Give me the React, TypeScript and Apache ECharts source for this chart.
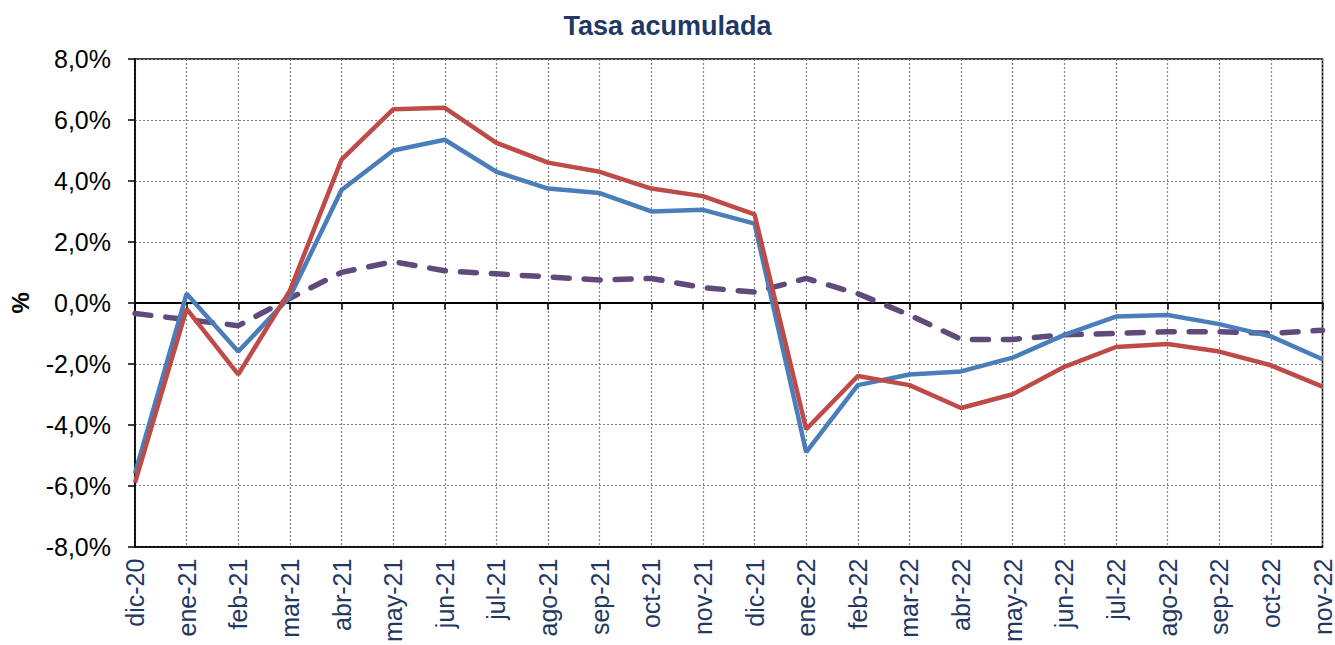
import React, { useEffect, useRef } from "react";
import * as echarts from "echarts";

const categories = [
  "dic-20", "ene-21", "feb-21", "mar-21", "abr-21", "may-21", "jun-21", "jul-21",
  "ago-21", "sep-21", "oct-21", "nov-21", "dic-21", "ene-22", "feb-22", "mar-22",
  "abr-22", "may-22", "jun-22", "jul-22", "ago-22", "sep-22", "oct-22", "nov-22",
];

const blueSeries = [
  -5.6, 0.3, -1.6, 0.2, 3.7, 5.0, 5.35, 4.3, 3.75, 3.6, 3.0, 3.05, 2.6,
  -4.9, -2.7, -2.35, -2.25, -1.8, -1.05, -0.45, -0.4, -0.7, -1.1, -1.85,
];

const redSeries = [
  -5.9, -0.2, -2.35, 0.4, 4.7, 6.35, 6.4, 5.25, 4.6, 4.3, 3.75, 3.5, 2.9,
  -4.15, -2.4, -2.7, -3.45, -3.0, -2.1, -1.45, -1.35, -1.6, -2.05, -2.75,
];

const purpleSeries = [
  -0.35, -0.55, -0.75, 0.15, 1.0, 1.35, 1.05, 0.95, 0.85, 0.75, 0.8, 0.5, 0.35,
  0.8, 0.3, -0.4, -1.2, -1.2, -1.05, -1.0, -0.95, -0.95, -1.0, -0.9,
];

const yMin = -8;
const yMax = 8;
const yStep = 2;

const FONT = "Liberation Sans, Arial, sans-serif";

export default function App() {
  const ref = useRef<HTMLDivElement>(null);
  useEffect(() => {
    if (!ref.current) return;
    const chart = echarts.init(ref.current, undefined, { renderer: "svg" });
    chart.setOption({
      animation: false,
      backgroundColor: "#ffffff",
      title: {
        text: "Tasa acumulada",
        left: "center",
        top: 7,
        textStyle: {
          fontFamily: FONT,
          fontSize: 27,
          fontWeight: "bold",
          color: "#1F3864",
        },
      },
      grid: {
        left: 134,
        right: 9,
        top: 59,
        bottom: 96,
        show: true,
        borderColor: "#000",
        borderWidth: 1.5,
        containLabel: false,
      },
      xAxis: [
        {
          type: "category",
          data: categories,
          boundaryGap: false,
          position: "bottom",
          axisLine: { onZero: false, lineStyle: { color: "#000", width: 1.5 } },
          axisTick: { show: false },
          axisLabel: {
            rotate: 90,
            interval: 0,
            margin: 12,
            fontFamily: FONT,
            fontSize: 25,
            color: "#1F3864",
          },
          splitLine: {
            show: true,
            interval: 0,
            lineStyle: { color: "#808080", type: [2, 2], width: 1.2 },
          },
        },
        {
          type: "category",
          data: categories,
          boundaryGap: false,
          position: "top",
          axisLine: { onZero: true, lineStyle: { color: "#000", width: 2 } },
          axisTick: { show: true, inside: true, interval: 0, length: 7, lineStyle: { color: "#000", width: 1.5 } },
          axisLabel: { show: false },
          splitLine: { show: false },
        },
      ],
      yAxis: {
        type: "value",
        min: yMin,
        max: yMax,
        interval: yStep,
        name: "%",
        nameLocation: "middle",
        nameGap: 103,
        nameRotate: 90,
        nameTextStyle: {
          fontFamily: FONT,
          fontSize: 24,
          fontWeight: "bold",
          color: "#000",
        },
        axisLine: { show: true, lineStyle: { color: "#000", width: 1.5 } },
        axisTick: { show: true, length: 7, lineStyle: { color: "#000", width: 1.5 } },
        axisLabel: {
          margin: 24,
          fontFamily: FONT,
          fontSize: 25,
          color: "#000",
          formatter: (v: number) => v.toFixed(1).replace(".", ",") + "%",
        },
        splitLine: {
          show: true,
          lineStyle: { color: "#808080", type: [2, 2], width: 1.2 },
        },
      },
      series: [
        {
          name: "Púrpura",
          type: "line",
          data: purpleSeries,
          symbol: "none",
          lineStyle: { color: "#604A7B", width: 5.5, type: [16, 15], cap: "round" },
          z: 3,
        },
        {
          name: "Azul",
          type: "line",
          data: blueSeries,
          symbol: "none",
          lineStyle: { color: "#4A7EBB", width: 4.5 },
          z: 4,
        },
        {
          name: "Rojo",
          type: "line",
          data: redSeries,
          symbol: "none",
          lineStyle: { color: "#BE4B48", width: 4.5 },
          z: 5,
        },
      ],
    });
    return () => chart.dispose();
  }, []);
  return <div ref={ref} style={{ width: 1335, height: 645, position: "absolute", left: 0, top: 0 }} />;
}
